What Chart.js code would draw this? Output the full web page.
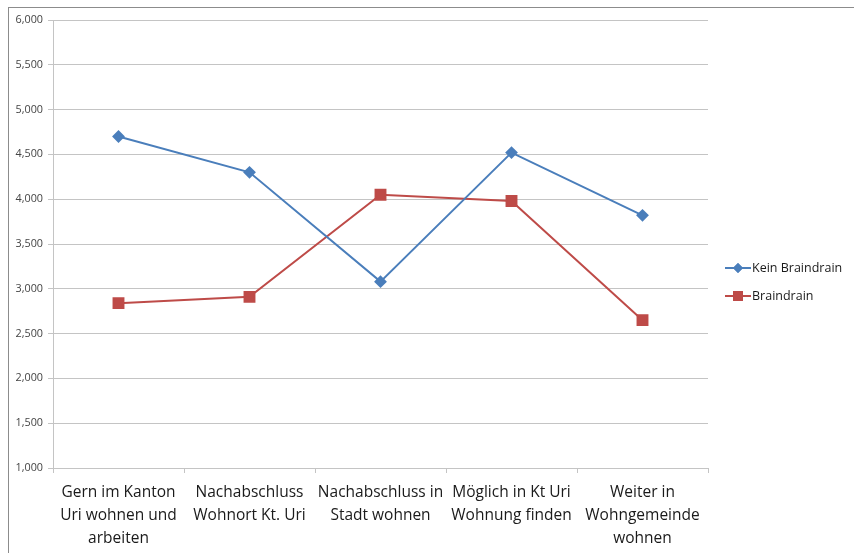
<!DOCTYPE html>
<html lang="de">
<head>
    <meta charset="UTF-8">
    <title>Braindrain</title>
    <script src="https://cdn.jsdelivr.net/npm/chart.js"></script>
    <style>
        body {
            margin: 0;
            background: #fff;
            font-family: "Open Sans", sans-serif;
        }

        #wrap {
            position: relative;
            width: 854px;
            height: 553px;
        }

        #frame {
            position: absolute;
            left: 8px;
            top: 7px;
            right: 0;
            bottom: 0;
            border-top: 1px solid #8c8c8c;
            border-left: 1px solid #8c8c8c;
            pointer-events: none;
        }

        canvas {
            position: absolute;
            left: 0;
            top: 0;
        }
    </style>
</head>
<body>
    <div id="wrap">
        <canvas id="chart" width="854" height="553"></canvas>
        <div id="frame"></div>
    </div>

    <script>
        const categories = [
            ["Gern im Kanton", "Uri wohnen und", "arbeiten"],
            ["Nachabschluss", "Wohnort Kt. Uri"],
            ["Nachabschluss in", "Stadt wohnen"],
            ["Möglich in Kt Uri", "Wohnung finden"],
            ["Weiter in", "Wohngemeinde", "wohnen"]
        ];
        const keinBraindrain = [4.70, 4.30, 3.08, 4.52, 3.82];
        const braindrain = [2.84, 2.91, 4.05, 3.98, 2.65];
        const yTickLabels = ["1,000", "1,500", "2,000", "2,500", "3,000", "3,500",
            "4,000", "4,500", "5,000", "5,500", "6,000"];

        const BLUE = "#4a7ebb";
        const RED = "#be4b48";
        const GRID = "#c4c4c4";

        // legend drawn by hand: line with marker in the middle, like the office chart
        const lineLegend = {
            id: "lineLegend",
            afterDraw(chart) {
                const ctx = chart.ctx;
                const x0 = chart.chartArea.right + 17;
                chart.data.datasets.forEach((ds, i) => {
                    const y = chart.chartArea.top + 248 + i * 28;
                    ctx.save();
                    ctx.strokeStyle = ds.borderColor;
                    ctx.lineWidth = 2;
                    ctx.beginPath();
                    ctx.moveTo(x0, y);
                    ctx.lineTo(x0 + 26, y);
                    ctx.stroke();
                    ctx.fillStyle = ds.pointBackgroundColor;
                    Chart.helpers.drawPoint(ctx, {
                        pointStyle: ds.pointStyle,
                        radius: ds.pointRadius,
                        rotation: 0
                    }, x0 + 13, y);
                    ctx.fill();
                    ctx.fillStyle = "#1a1a1a";
                    ctx.font = "12.5px 'Open Sans'";
                    ctx.textBaseline = "middle";
                    ctx.fillText(ds.label, x0 + 27, y);
                    ctx.restore();
                });
            }
        };

        new Chart(document.getElementById("chart"), {
            type: "line",
            data: {
                labels: categories,
                datasets: [{
                    label: "Kein Braindrain",
                    data: keinBraindrain,
                    borderColor: BLUE,
                    backgroundColor: BLUE,
                    pointBackgroundColor: BLUE,
                    pointBorderColor: BLUE,
                    pointStyle: "rectRot",
                    pointRadius: 5,
                    borderWidth: 2,
                    tension: 0
                }, {
                    label: "Braindrain",
                    data: braindrain,
                    borderColor: RED,
                    backgroundColor: RED,
                    pointBackgroundColor: RED,
                    pointBorderColor: RED,
                    pointStyle: "rect",
                    pointRadius: 7,
                    borderWidth: 2,
                    tension: 0
                }]
            },
            options: {
                responsive: false,
                animation: false,
                layout: {
                    padding: { top: 20, right: 146, bottom: 0, left: 0 }
                },
                plugins: {
                    legend: { display: false },
                    tooltip: { enabled: false }
                },
                scales: {
                    x: {
                        offset: true,
                        grid: {
                            offset: true,
                            drawOnChartArea: false,
                            drawTicks: true,
                            tickLength: 5,
                            color: GRID
                        },
                        border: { color: GRID },
                        ticks: {
                            maxRotation: 0,
                            autoSkip: false,
                            padding: 8,
                            color: "#1a1a1a",
                            font: { family: "'Open Sans'", size: 15.5, lineHeight: "23px" }
                        },
                        afterFit(scale) {
                            scale.height = 85;
                        }
                    },
                    y: {
                        min: 1,
                        max: 6,
                        ticks: {
                            stepSize: 0.5,
                            padding: 5,
                            color: "#444",
                            font: { family: "'Open Sans'", size: 10.8 },
                            callback: (v, i) => yTickLabels[i]
                        },
                        grid: {
                            color: GRID,
                            tickLength: 5
                        },
                        border: { color: GRID },
                        afterFit(scale) {
                            scale.width = 53;
                        }
                    }
                }
            },
            plugins: [lineLegend]
        });
    </script>
</body>
</html>
